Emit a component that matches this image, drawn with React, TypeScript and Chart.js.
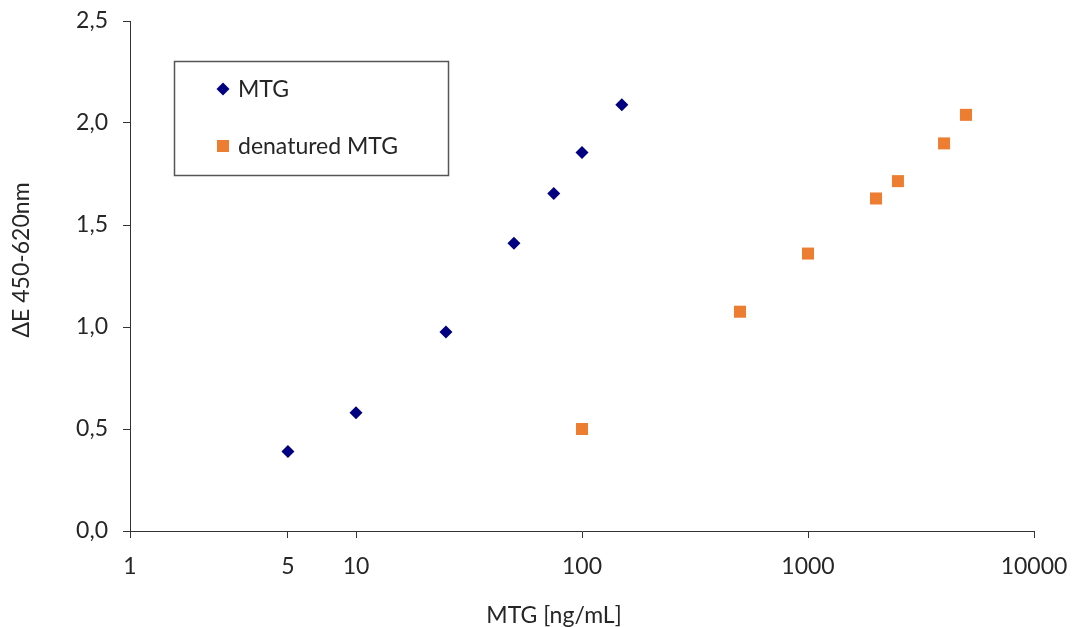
import React, { useEffect, useRef } from "react";
import { Chart, registerables } from "chart.js";

Chart.register(...registerables);

const mtgX = [5, 10, 25, 50, 75, 100, 150];
const mtgY = [0.39, 0.58, 0.975, 1.41, 1.655, 1.855, 2.09];
const denX = [100, 500, 1000, 2000, 2500, 4000, 5000];
const denY = [0.5, 1.075, 1.36, 1.63, 1.715, 1.9, 2.04];
const xTicks = [1, 5, 10, 100, 1000, 10000];
const yTicks = [0, 0.5, 1, 1.5, 2, 2.5];
const seriesLabels = ["MTG", "denatured MTG"];
const seriesColors = ["#000080", "#ED7D31"];
const xTitle = "MTG [ng/mL]";
const yTitle = "ΔE 450-620nm";

const FONT = "Lato";
const TEXT = "#262626";

function drawMarker(ctx: CanvasRenderingContext2D, style: string, x: number, y: number, color: string) {
  ctx.save();
  ctx.fillStyle = color;
  ctx.beginPath();
  if (style === "rectRot") {
    const r = 6.5;
    ctx.moveTo(x, y - r);
    ctx.lineTo(x + r, y);
    ctx.lineTo(x, y + r);
    ctx.lineTo(x - r, y);
    ctx.closePath();
  } else {
    const h = 6;
    ctx.rect(x - h, y - h, 2 * h, 2 * h);
  }
  ctx.fill();
  ctx.restore();
}

const overlayPlugin = {
  id: "overlay",
  afterDraw(chart: any) {
    const ctx: CanvasRenderingContext2D = chart.ctx;
    ctx.save();
    // legend box
    ctx.strokeStyle = "#555555";
    ctx.lineWidth = 1.5;
    ctx.strokeRect(174.5, 61.5, 274, 114);
    ctx.font = `23px ${FONT}`;
    ctx.fillStyle = TEXT;
    ctx.textBaseline = "middle";
    ctx.textAlign = "left";
    const rows = [89, 146];
    chart.data.datasets.forEach((ds: any, i: number) => {
      drawMarker(ctx, ds.pointStyle, 223, rows[i], ds.backgroundColor);
      ctx.fillStyle = TEXT;
      ctx.fillText(ds.label, 238, rows[i] + 1);
    });
    // axis titles
    ctx.textAlign = "center";
    ctx.textBaseline = "alphabetic";
    ctx.fillText(xTitle, 554, 623);
    ctx.translate(29, 260);
    ctx.rotate(-Math.PI / 2);
    ctx.fillText(yTitle, 0, 0);
    ctx.restore();
  },
};

export default function App() {
  const ref = useRef<HTMLCanvasElement>(null);
  useEffect(() => {
    if (!ref.current) return;
    const chart = new Chart(ref.current, {
      type: "scatter",
      data: {
        datasets: [
          {
            label: seriesLabels[0],
            data: mtgX.map((x, i) => ({ x, y: mtgY[i] })),
            pointStyle: "rectRot",
            pointRadius: 6.5,
            pointHoverRadius: 6.5,
            backgroundColor: seriesColors[0],
            borderColor: seriesColors[0],
            borderWidth: 0,
          },
          {
            label: seriesLabels[1],
            data: denX.map((x, i) => ({ x, y: denY[i] })),
            pointStyle: "rect",
            pointRadius: 8.5,
            pointHoverRadius: 8.5,
            backgroundColor: seriesColors[1],
            borderColor: seriesColors[1],
            borderWidth: 0,
          },
        ],
      },
      options: {
        animation: false,
        responsive: true,
        maintainAspectRatio: false,
        layout: { padding: { left: 0, right: 42, top: 21, bottom: 0 } },
        plugins: {
          legend: { display: false },
          tooltip: { enabled: false },
          title: { display: false },
        },
        scales: {
          x: {
            type: "logarithmic",
            min: 1,
            max: 10000,
            afterBuildTicks: (s: any) => {
              s.ticks = xTicks.map((v) => ({ value: v }));
            },
            afterFit: (s: any) => {
              s.height = 96;
              s.paddingLeft = 0;
              s.paddingRight = 0;
              s.paddingTop = 0;
              s.paddingBottom = 0;
            },
            ticks: {
              autoSkip: false,
              maxRotation: 0,
              padding: 15,
              color: TEXT,
              font: { family: FONT, size: 23 },
              callback: (v: any) => String(v),
            },
            grid: { drawOnChartArea: false, drawTicks: true, tickLength: 7, color: "#333333" },
            border: { display: true, color: "#333333", width: 1 },
          },
          y: {
            min: 0,
            max: 2.5,
            afterBuildTicks: (s: any) => {
              s.ticks = yTicks.map((v) => ({ value: v }));
            },
            afterFit: (s: any) => {
              s.width = 130;
              s.paddingLeft = 0;
              s.paddingRight = 0;
              s.paddingTop = 0;
              s.paddingBottom = 0;
            },
            ticks: {
              padding: 15,
              color: TEXT,
              font: { family: FONT, size: 23 },
              callback: (v: any) => Number(v).toFixed(1).replace(".", ","),
            },
            grid: { drawOnChartArea: false, drawTicks: true, tickLength: 7, color: "#333333" },
            border: { display: true, color: "#333333", width: 1 },
          },
        },
      },
      plugins: [overlayPlugin],
    } as any);
    return () => chart.destroy();
  }, []);
  return (
    <div style={{ position: "absolute", left: 0, top: 0, width: 1076, height: 627, background: "#fff" }}>
      <canvas ref={ref} />
    </div>
  );
}
